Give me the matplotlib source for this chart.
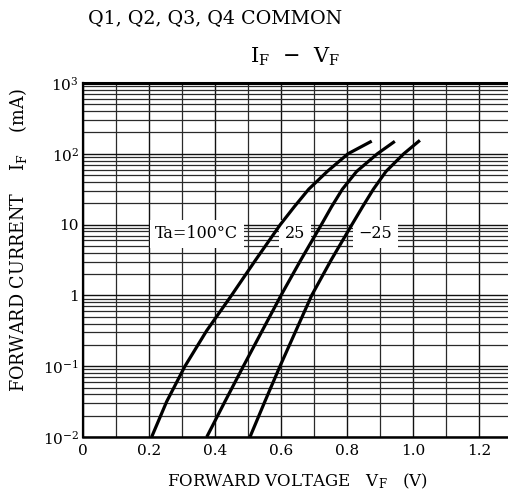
import matplotlib
matplotlib.use("Agg")
import matplotlib.pyplot as plt
from matplotlib.ticker import FixedLocator, LogLocator, NullFormatter, FixedFormatter

# ---- data ----
v_100 = [0.208, 0.2535, 0.309, 0.3745, 0.45, 0.523, 0.598, 0.640, 0.684, 0.740, 0.803, 0.875]
i_100 = [0.01, 0.0316, 0.1, 0.316, 1.0, 3.16, 10, 17.8, 31.6, 56.2, 100, 151]

v_25 = [0.375, 0.430, 0.486, 0.543, 0.600, 0.660, 0.7225, 0.753, 0.786, 0.829, 0.892, 0.945]
i_25 = [0.01, 0.0316, 0.1, 0.316, 1.0, 3.16, 10, 17.8, 31.6, 56.2, 100, 150]

v_m25 = [0.506, 0.551, 0.597, 0.645, 0.693, 0.752, 0.815, 0.847, 0.880, 0.918, 0.972, 1.021]
i_m25 = [0.01, 0.0316, 0.1, 0.316, 1.0, 3.16, 10, 17.8, 31.6, 56.2, 100, 155]

x_tick_vals = [0, 0.2, 0.4, 0.6, 0.8, 1.0, 1.2]
x_tick_labels = ["0", "0.2", "0.4", "0.6", "0.8", "1.0", "1.2"]
y_tick_vals = [0.01, 0.1, 1, 10, 100, 1000]
y_tick_labels = [r"$10^{-2}$", r"$10^{-1}$", "1", "10", r"$10^{2}$", r"$10^{3}$"]

curve_labels = ["Ta=100°C", "25", "−25"]
label_x = [0.345, 0.642, 0.886]
label_y = [7.45, 7.45, 7.45]

# ---- figure ----
plt.rcParams["font.family"] = ["DejaVu Serif"]
plt.rcParams["mathtext.fontset"] = "dejavuserif"

fig = plt.figure(figsize=(5.08, 4.92), dpi=100)
ax = fig.add_axes([83 / 508, 1 - 437 / 492, 1 - 83 / 508, (437 - 83) / 492])

ax.set_yscale("log")
ax.set_xlim(0, 1.288)
ax.set_ylim(0.01, 1000)

# grid
ax.xaxis.set_major_locator(FixedLocator(x_tick_vals))
ax.xaxis.set_major_formatter(FixedFormatter(x_tick_labels))
ax.xaxis.set_minor_locator(FixedLocator([0.1, 0.3, 0.5, 0.7, 0.9, 1.1]))
ax.yaxis.set_major_locator(FixedLocator(y_tick_vals))
ax.yaxis.set_major_formatter(FixedFormatter(y_tick_labels))
ax.yaxis.set_minor_locator(LogLocator(base=10, subs=range(2, 10), numticks=20))
ax.yaxis.set_minor_formatter(NullFormatter())
ax.grid(True, which="major", color="#111111", lw=1.0)
ax.grid(True, which="minor", color="#2a2a2a", lw=0.9)
ax.set_axisbelow(True)

ax.tick_params(which="both", length=0, labelsize=11, pad=3)
ax.tick_params(axis="x", pad=5)

ax.spines["right"].set_visible(False)
ax.spines["left"].set_linewidth(1.6)
ax.spines["bottom"].set_linewidth(1.8)
ax.spines["top"].set_linewidth(2.2)

# curves
for v, i in [(v_100, i_100), (v_25, i_25), (v_m25, i_m25)]:
    ax.plot(v, i, color="black", lw=2.3, solid_capstyle="butt", solid_joinstyle="round", zorder=3)

for t, x, y in zip(curve_labels, label_x, label_y):
    ax.text(x, y, t, ha="center", va="center", fontsize=11.5, zorder=2.5,
            bbox=dict(facecolor="white", edgecolor="none", pad=4.0))

# texts
fig.text(88 / 508, 1 - 18 / 492, "Q1, Q2, Q3, Q4 COMMON", ha="left", va="center", fontsize=13.7)
fig.text(295 / 508, 1 - 57 / 492, r"I$_\mathrm{F}$  −  V$_\mathrm{F}$", ha="center", va="center", fontsize=15)
fig.text(298 / 508, 1 - 481 / 492, r"FORWARD VOLTAGE   V$_\mathrm{F}$   (V)", ha="center", va="center", fontsize=12)
fig.text(18 / 508, 1 - 240 / 492, r"FORWARD CURRENT    I$_\mathrm{F}$    (mA)", ha="center", va="center",
         rotation=90, fontsize=12.7)

fig.savefig("out.png", dpi=100)
